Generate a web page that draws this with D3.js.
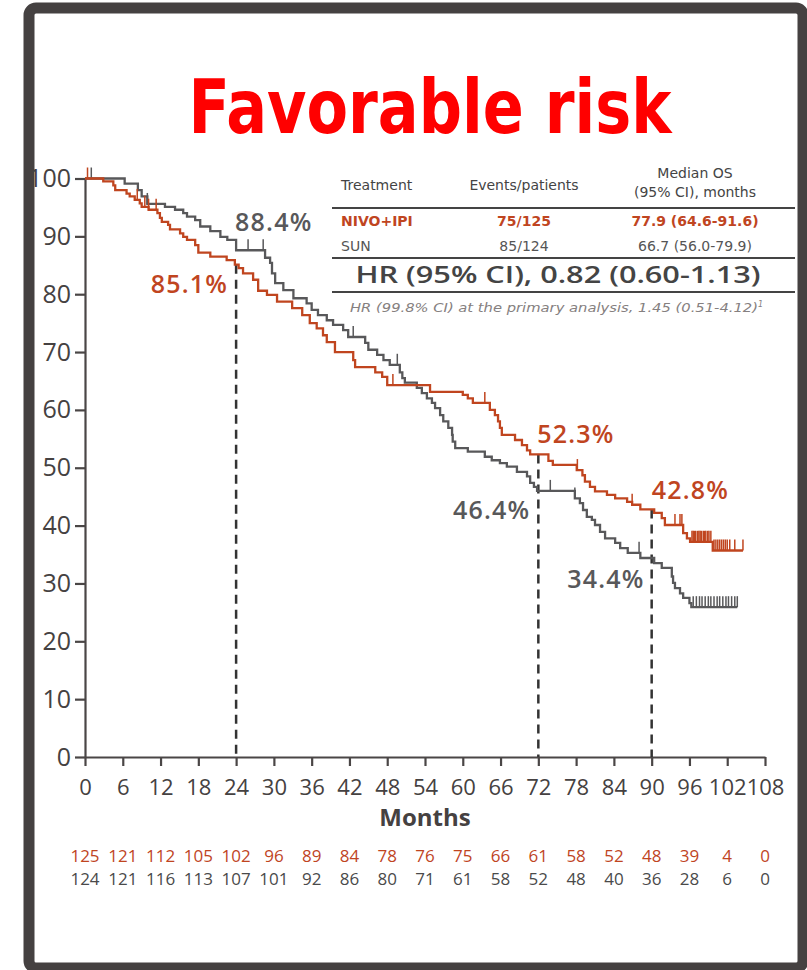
<!DOCTYPE html>
<html>
<head>
<meta charset="utf-8">
<script src="https://cdn.jsdelivr.net/npm/d3@7"></script>
<style>
  body { margin: 0; background: #fff; }
  svg { display: block; font-family: "Open Sans", sans-serif; }
</style>
</head>
<body>
<svg id="chart" width="807" height="970"></svg>
<script>
// ---- data ----
var xTicks = [0, 6, 12, 18, 24, 30, 36, 42, 48, 54, 60, 66, 72, 78, 84, 90, 96, 102, 108];
var yTicks = [0, 10, 20, 30, 40, 50, 60, 70, 80, 90, 100];

// NIVO+IPI: [month, OS %] after each drop
var nivoSteps = [
  [0, 100], [2.9, 99.5], [4.5, 98.8], [4.8, 98.0], [6.6, 97.4], [7.1, 96.9], [7.9, 96.3],
  [8.7, 95.7], [9.0, 95.1], [10.1, 94.6], [11.5, 94.0], [11.9, 93.2], [12.2, 92.5],
  [13.2, 92.0], [13.5, 91.2], [15.1, 90.5], [15.6, 89.9], [16.2, 89.4], [17.5, 88.5],
  [18.0, 87.2], [19.9, 86.5], [22.5, 85.9], [23.8, 85.1], [24.4, 84.5], [25.1, 83.6],
  [26.7, 82.5], [27.5, 80.6], [28.9, 79.9], [30.5, 78.7], [32.9, 77.6], [34.5, 76.4],
  [35.7, 75.0], [36.8, 74.1], [37.8, 72.9], [38.4, 71.7], [39.7, 70.0], [42.6, 68.6],
  [42.9, 67.4], [46.1, 66.5], [47.2, 65.7], [48.0, 64.3], [54.8, 63.1], [60.0, 62.6],
  [60.8, 62.0], [61.6, 61.2], [64.3, 60.0], [65.1, 59.1], [65.6, 58.0], [65.9, 56.9],
  [66.2, 55.7], [68.3, 54.8], [69.4, 53.9], [70.2, 53.0], [70.7, 52.3], [73.6, 51.2],
  [74.3, 50.5], [78.1, 49.6], [79.0, 48.7], [79.4, 47.6], [80.2, 46.7], [81.0, 45.9],
  [82.9, 45.3], [84.2, 44.7], [86.1, 44.1], [86.9, 43.6], [88.2, 42.8], [90.4, 42.2],
  [91.6, 41.3], [92.1, 40.1], [95.0, 38.7], [95.6, 37.8], [96.1, 37.2], [99.7, 35.7]
];
var nivoCensor = [
  0.4, 8.3, 9.5, 10.1, 11.3, 48.9, 63.5, 78.2, 86.9, 93.7, 94.5, 94.8,
  96.4, 96.6, 96.8, 97.0, 97.3, 97.5, 97.7, 97.9, 98.2, 98.4, 98.6, 98.9, 99.1, 99.4,
  99.9, 100.2, 100.5, 100.8, 101.1, 101.4, 101.7, 102.0, 102.4, 103.2, 104.5
];

// SUN
var sunSteps = [
  [0, 100], [6.3, 99.1], [8.4, 98.0], [9.0, 96.9], [9.9, 95.6], [12.7, 95.1], [14.3, 94.6],
  [15.6, 94.0], [16.2, 93.4], [17.5, 92.8], [18.3, 91.7], [19.9, 90.9], [21.5, 89.9],
  [22.6, 89.4], [24.0, 87.6], [28.6, 86.3], [29.4, 85.4], [29.7, 83.6], [30.2, 81.9],
  [31.5, 80.7], [33.1, 79.3], [35.2, 78.4], [36.0, 77.3], [37.0, 76.4], [38.4, 75.5],
  [39.4, 74.7], [41.0, 73.8], [41.8, 72.6], [44.5, 71.6], [45.0, 70.4], [46.4, 69.5],
  [47.4, 68.6], [48.4, 67.8], [50.0, 66.5], [50.4, 65.5], [50.8, 64.7], [52.7, 63.8],
  [53.5, 62.9], [54.3, 62.0], [55.1, 61.2], [55.6, 60.3], [56.4, 59.1], [56.9, 58.0],
  [57.7, 56.9], [58.3, 55.7], [58.4, 54.5], [58.8, 53.4], [60.8, 52.8], [63.5, 51.9],
  [64.6, 51.3], [65.9, 50.8], [67.0, 50.2], [68.6, 49.3], [70.2, 48.5], [70.7, 47.4],
  [71.3, 46.7], [71.8, 46.0], [77.8, 44.7], [78.6, 43.9], [79.1, 42.7], [79.7, 41.5],
  [80.5, 41.0], [81.0, 40.1], [81.8, 38.9], [82.6, 37.8], [84.2, 37.0], [85.0, 36.1],
  [86.2, 35.3], [88.2, 34.4], [90.4, 33.5], [91.6, 32.7], [93.2, 31.2], [93.4, 30.1],
  [93.7, 29.2], [94.5, 28.3], [95.0, 27.5], [96.0, 26.6], [96.3, 25.9]
];
var sunCensor = [
  1.0, 9.9, 25.9, 28.3, 42.6, 49.6, 73.9, 77.8, 88.0,
  96.6, 97.1, 97.6, 98.0, 98.5, 99.0, 99.4, 99.9, 100.4, 100.8, 101.3, 101.8, 102.2,
  102.7, 103.2, 103.6
];

var landmarkMonths = [24, 72, 90];
var nivoLandmark = [85.1, 52.3, 42.8];
var sunLandmark = [88.4, 46.4, 34.4];

var nivoAtRisk = [125, 121, 112, 105, 102, 96, 89, 84, 78, 76, 75, 66, 61, 58, 52, 48, 39, 4, 0];
var sunAtRisk = [124, 121, 116, 113, 107, 101, 92, 86, 80, 71, 61, 58, 52, 48, 40, 36, 28, 6, 0];

var tableHeader = ["Treatment", "Events/patients", "Median OS", "(95% CI), months"];
var tableRows = [
  ["NIVO+IPI", "75/125", "77.9 (64.6-91.6)"],
  ["SUN", "85/124", "66.7 (56.0-79.9)"]
];
var hrText = "HR (95% CI), 0.82 (0.60-1.13)";
var footText = "HR (99.8% CI) at the primary analysis, 1.45 (0.51-4.12)";

var RED = "#c0451f";
var GRAY = "#58585a";
var INK = "#4a4646";
var TFONT = "DejaVu Sans, Verdana, sans-serif";

var svg = d3.select("#chart");

// title
svg.append("text")
  .attr("x", 430).attr("y", 133)
  .attr("text-anchor", "middle")
  .attr("font-family", "DejaVu Sans, sans-serif")
  .attr("font-weight", "bold")
  .attr("font-size", 75)
  .attr("fill", "#ff0000")
  .attr("textLength", 483)
  .attr("lengthAdjust", "spacingAndGlyphs")
  .text("Favorable risk");

var x = d3.scaleLinear().domain([0, 108]).range([85, 765]);
var y = d3.scaleLinear().domain([0, 100]).range([757, 178.5]);

// axes
var xAxis = svg.append("g")
  .attr("transform", "translate(0," + y(0) + ")")
  .call(d3.axisBottom(x).tickValues(xTicks).tickSize(9).tickSizeOuter(0).tickPadding(13));
var yAxis = svg.append("g")
  .attr("transform", "translate(" + x(0) + ",0)")
  .call(d3.axisLeft(y).tickValues(yTicks).tickSize(10).tickSizeOuter(0).tickPadding(4));

[xAxis, yAxis].forEach(function (ax) {
  ax.select(".domain").attr("stroke", INK).attr("stroke-width", 2.2);
  ax.selectAll(".tick line").attr("stroke", INK).attr("stroke-width", 2.2);
  ax.selectAll(".tick text")
    .attr("fill", "#454141")
    .attr("font-family", "Open Sans, sans-serif");
});
xAxis.selectAll(".tick text").attr("font-size", 22);
yAxis.selectAll(".tick text").attr("font-size", 25);

svg.append("text")
  .attr("x", 425).attr("y", 826)
  .attr("text-anchor", "middle")
  .attr("font-size", 24)
  .attr("font-weight", "bold")
  .attr("fill", "#454141")
  .text("Months");

// landmark dashed lines
landmarkMonths.forEach(function (m, i) {
  svg.append("line")
    .attr("x1", x(m)).attr("x2", x(m))
    .attr("y1", y(nivoLandmark[i])).attr("y2", y(0))
    .attr("stroke", "#333")
    .attr("stroke-width", 2.5)
    .attr("stroke-dasharray", "9,6");
});

// KM curves
function survAt(steps, t) {
  var s = steps[0][1];
  steps.forEach(function (d) { if (d[0] <= t) s = d[1]; });
  return s;
}

function drawArm(steps, censor, color) {
  var endT = d3.max(censor);
  var pts = steps.concat([[endT, survAt(steps, endT)]]);
  var line = d3.line()
    .x(function (d) { return x(d[0]); })
    .y(function (d) { return y(d[1]); })
    .curve(d3.curveStepAfter);
  svg.append("path")
    .datum(pts)
    .attr("d", line)
    .attr("fill", "none")
    .attr("stroke", color)
    .attr("stroke-width", 2.3);
  svg.selectAll(null)
    .data(censor)
    .enter()
    .append("line")
    .attr("x1", function (t) { return x(t); })
    .attr("x2", function (t) { return x(t); })
    .attr("y1", function (t) { return y(survAt(steps, t)); })
    .attr("y2", function (t) { return y(survAt(steps, t)) - 11; })
    .attr("stroke", color)
    .attr("stroke-width", 1.5);
}
drawArm(sunSteps, sunCensor, GRAY);
drawArm(nivoSteps, nivoCensor, RED);

// landmark labels
var labelOpts = [
  { v: nivoLandmark[0], m: 24, dx: -8, dy: 28, anchor: "end", c: RED },
  { v: sunLandmark[0], m: 24, dx: -1, dy: -15, anchor: "start", c: GRAY },
  { v: nivoLandmark[1], m: 72, dx: -1, dy: -11, anchor: "start", c: RED },
  { v: sunLandmark[1], m: 72, dx: -8, dy: 30, anchor: "end", c: GRAY },
  { v: nivoLandmark[2], m: 90, dx: 0, dy: -10, anchor: "start", c: RED },
  { v: sunLandmark[2], m: 90, dx: -7, dy: 30, anchor: "end", c: GRAY }
];
labelOpts.forEach(function (o) {
  svg.append("text")
    .attr("x", x(o.m) + o.dx)
    .attr("y", y(o.v) + o.dy)
    .attr("text-anchor", o.anchor)
    .attr("font-size", 25)
    .attr("font-weight", 600)
    .attr("letter-spacing", 1.2)
    .attr("fill", o.c)
    .text(o.v.toFixed(1) + "%");
});

// at-risk rows
[[nivoAtRisk, RED, 862], [sunAtRisk, "#4a4a4a", 885]].forEach(function (r) {
  svg.selectAll(null)
    .data(r[0])
    .enter()
    .append("text")
    .attr("x", function (d, i) { return x(xTicks[i]); })
    .attr("y", r[2])
    .attr("text-anchor", "middle")
    .attr("font-size", 17)
    .attr("fill", r[1])
    .text(function (d) { return d; });
});

// table
var tbl = svg.append("g").attr("font-family", TFONT);
var colX = [341, 524, 695];
function head(txt, cx, cy, anchor) {
  tbl.append("text").attr("x", cx).attr("y", cy)
    .attr("text-anchor", anchor)
    .attr("font-size", 14)
    .attr("fill", "#444")
    .text(txt);
}
head(tableHeader[0], colX[0], 190, "start");
head(tableHeader[1], colX[1], 190, "middle");
head(tableHeader[2], colX[2], 178, "middle");
head(tableHeader[3], colX[2], 197, "middle");

[208, 258, 292].forEach(function (ly) {
  tbl.append("line")
    .attr("x1", 332).attr("x2", 795)
    .attr("y1", ly).attr("y2", ly)
    .attr("stroke", "#444").attr("stroke-width", 2);
});

tableRows.forEach(function (row, ri) {
  var by = [226, 251][ri];
  var col = ri === 0 ? RED : "#555";
  row.forEach(function (cell, ci) {
    tbl.append("text")
      .attr("x", colX[ci])
      .attr("y", by)
      .attr("text-anchor", ci === 0 ? "start" : "middle")
      .attr("font-size", 14)
      .attr("font-weight", ri === 0 ? "bold" : "normal")
      .attr("fill", col)
      .text(cell);
  });
});

tbl.append("text")
  .attr("x", 558).attr("y", 283)
  .attr("text-anchor", "middle")
  .attr("font-family", "Open Sans, sans-serif")
  .attr("font-size", 24)
  .attr("font-weight", 600)
  .attr("fill", "#444")
  .attr("textLength", 405)
  .attr("lengthAdjust", "spacingAndGlyphs")
  .text(hrText);

var foot = tbl.append("text")
  .attr("x", 350).attr("y", 312)
  .attr("font-size", 13)
  .attr("font-style", "italic")
  .attr("fill", "#858080");
foot.append("tspan")
  .attr("textLength", 408)
  .attr("lengthAdjust", "spacingAndGlyphs")
  .text(footText);
foot.append("tspan").attr("dy", -5).attr("font-size", 8).text("1");

// frame drawn last so it hides what runs under the border
svg.append("rect")
  .attr("x", 29).attr("y", 8)
  .attr("width", 774).attr("height", 960)
  .attr("rx", 7)
  .attr("fill", "none")
  .attr("stroke", "#454141")
  .attr("stroke-width", 11);
</script>
</body>
</html>
